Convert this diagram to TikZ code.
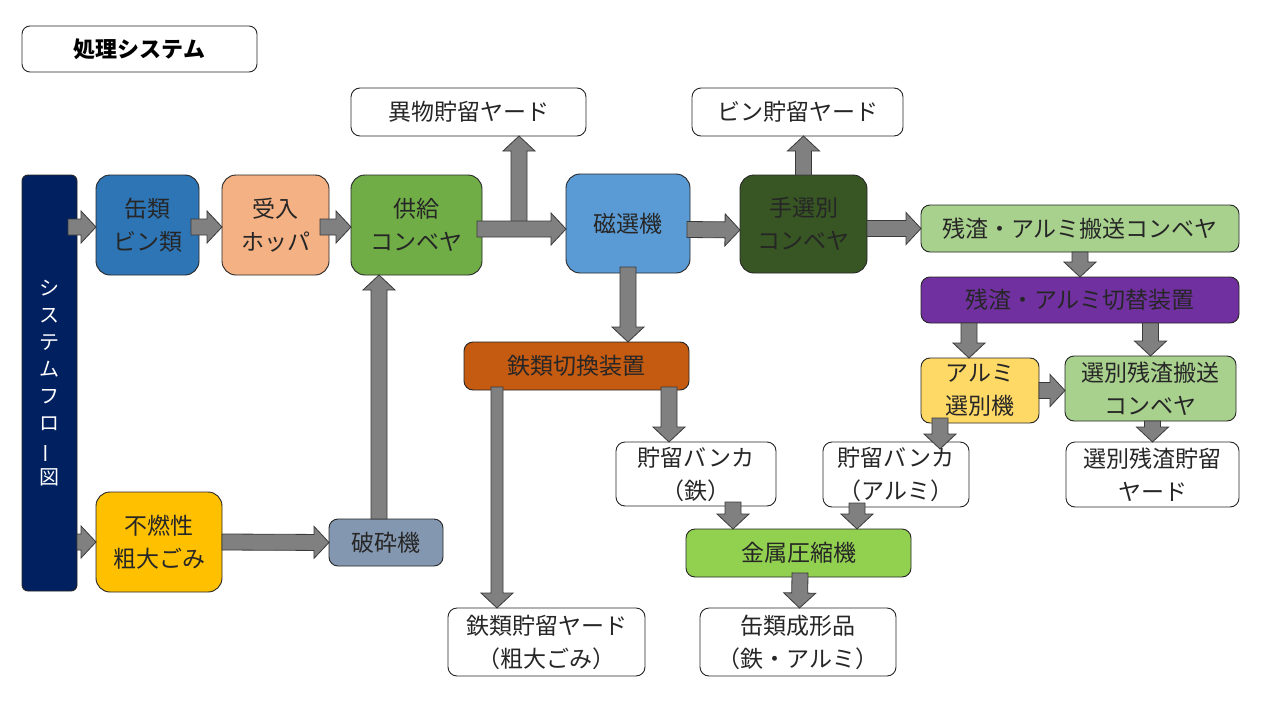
\documentclass[tikz,border=0pt]{standalone}
\usepackage{fontspec}
\setmainfont{Noto Sans CJK JP}
\usetikzlibrary{calc}
\definecolor{txt}{HTML}{262626}
\definecolor{navy}{HTML}{002060}
\definecolor{cblue}{HTML}{2E75B6}
\definecolor{cpeach}{HTML}{F4B183}
\definecolor{cgreen}{HTML}{70AD47}
\definecolor{clblue}{HTML}{5B9BD5}
\definecolor{cdgreen}{HTML}{375623}
\definecolor{clgreen}{HTML}{A9D18E}
\definecolor{cpurple}{HTML}{7030A0}
\definecolor{cyellow}{HTML}{FFD966}
\definecolor{corange}{HTML}{C55A11}
\definecolor{cgold}{HTML}{FFC000}
\definecolor{cmgreen}{HTML}{92D050}
\definecolor{cslate}{HTML}{8497B0}
\definecolor{agray}{HTML}{808080}
\definecolor{aline}{HTML}{3A3A3A}
\newcommand{\blockarr}[3][8]{%
  \coordinate (BAs) at (#2);
  \coordinate (BAe) at (#3);
  \coordinate (BAh) at ($(BAe)!15pt!(BAs)$);
  \draw[barr] ($(BAs)!#1pt!90:(BAe)$) -- ($(BAh)!#1pt!90:(BAe)$) -- ($(BAh)!16pt!90:(BAe)$) -- (BAe)
    -- ($(BAh)!16pt!-90:(BAe)$) -- ($(BAh)!#1pt!-90:(BAe)$) -- ($(BAs)!#1pt!-90:(BAe)$) -- cycle;
}
\tikzset{
  nd/.style={draw=black!85, line width=0.9pt, align=center, inner sep=0pt, outer sep=0pt,
    text=txt, font=\fontsize{23}{33}\selectfont, rounded corners=9pt},
  big/.style={nd, rounded corners=14pt},
  wh/.style={nd, fill=white},
  barr/.style={fill=agray, draw=aline, line width=0.8pt, line join=miter}
}
\begin{document}
\begin{tikzpicture}[x=1pt, y=-1pt]
\useasboundingbox[fill=white] (0,0) rectangle (1280,720);

% title
\node[nd, rounded corners=8pt, minimum width=235pt, minimum height=46pt, font=\fontsize{22}{26}\selectfont\bfseries, text=black] (title) at (139.5,49) {処理システム};

% system flow bar
\node[nd, fill=navy, rounded corners=6pt, minimum width=55pt, minimum height=416pt, text=white, font=\fontsize{20}{27}\selectfont] (bar) at (49.5,383)
  {シ\\ス\\テ\\ム\\フ\\ロ\\\rotatebox[origin=c]{90}{ー}\\図};

% top row
\node[big, fill=cblue, minimum width=103pt, minimum height=100pt] (kan) at (147.5,225) {缶類\\ビン類};
\node[big, fill=cpeach, minimum width=107pt, minimum height=100pt] (uke) at (275.5,225) {受入\\ホッパ};
\node[big, fill=cgreen, minimum width=131pt, minimum height=100pt] (kyo) at (416.5,225) {供給\\コンベヤ};
\node[big, fill=clblue, minimum width=124pt, minimum height=99pt] (jisen) at (628,223.5) {磁選機};
\node[big, fill=cdgreen, minimum width=127pt, minimum height=98pt] (tesen) at (803.5,224) {手選別\\コンベヤ};

% yards top
\node[wh, minimum width=235pt, minimum height=48pt] (iyard) at (468.5,112) {異物貯留ヤード};
\node[wh, minimum width=211pt, minimum height=48pt] (binyard) at (797.5,112) {ビン貯留ヤード};

% right column
\node[nd, fill=clgreen, minimum width=318pt, minimum height=47pt] (zanhan) at (1080,228.5) {残渣・アルミ搬送コンベヤ};
\node[nd, fill=cpurple, minimum width=318pt, minimum height=46pt] (zankiri) at (1080,300) {残渣・アルミ切替装置};
\node[nd, fill=cyellow, minimum width=118pt, minimum height=65pt] (alsen) at (980,390.5) {アルミ\\選別機};
\node[nd, fill=clgreen, minimum width=171pt, minimum height=65pt] (senhan) at (1150.5,388.5) {選別残渣搬送\\コンベヤ};
\node[wh, minimum width=173pt, minimum height=65pt] (senyard) at (1152.5,474.5) {選別残渣貯留\\ヤード};
\node[wh, minimum width=146pt, minimum height=65pt] (albank) at (896,474.5) {貯留バンカ\\（アルミ）};

% middle
\node[nd, fill=corange, minimum width=225pt, minimum height=48pt] (fekiri) at (576.5,366) {鉄類切換装置};
\node[wh, minimum width=160pt, minimum height=64pt] (febank) at (696,474) {貯留バンカ\\（鉄）};
\node[nd, fill=cmgreen, minimum width=225pt, minimum height=48pt] (asshuku) at (798.5,553) {金属圧縮機};
\node[wh, minimum width=196pt, minimum height=68pt] (seikei) at (798,642) {缶類成形品\\（鉄・アルミ）};
\node[wh, minimum width=197pt, minimum height=68pt] (feyard) at (546.5,642) {鉄類貯留ヤード\\（粗大ごみ）};

% bottom left
\node[big, fill=cgold, minimum width=126pt, minimum height=100pt] (funen) at (159,542) {不燃性\\粗大ごみ};
\node[nd, fill=cslate, minimum width=114pt, minimum height=47pt] (hasai) at (386,542.5) {破砕機};

% arrows
\blockarr{$(bar.east |- kan.west)+(-9,2)$}{$(kan.west)+(0,2)$}
\blockarr{$(kan.east)+(-8,2)$}{$(uke.west)+(0,2)$}
\blockarr{$(uke.east)+(-9,2)$}{$(kyo.west)+(0,2)$}
\coordinate (j1) at ($(kyo.east)+(37,4)$);
\blockarr{j1}{iyard.south -| j1}
\blockarr{$(kyo.east)+(-5,4)$}{jisen.west |- j1}
\blockarr{$(jisen.east)+(-3,6)$}{$(tesen.west)+(0,6)$}
\blockarr{tesen.north}{binyard.south -| tesen.north}
\blockarr{tesen.east |- zanhan.west}{zanhan.west}
\blockarr{zanhan.south}{zankiri.north}
\blockarr{$(zankiri.south -| alsen.north)+(-11,0)$}{$(alsen.north)+(-11,0)$}
\blockarr{zankiri.south -| senhan.north}{senhan.north}
\blockarr{alsen.east}{senhan.west |- alsen.east}
\blockarr{$(senhan.south)+(2,0)$}{$(senyard.north)+(0,0)$}
\blockarr{$(alsen.south)+(-40,-5)$}{$(alsen.south)+(-40,26)$}
\blockarr{$(jisen.south)+(0,-6)$}{jisen.south |- fekiri.north}
\blockarr{$(fekiri.south)+(92.5,-3)$}{$(febank.north)+(-27,0)$}
\blockarr[6]{$(fekiri.south)+(-79.5,-3)$}{$(feyard.north)+(-49.5,0)$}
\blockarr{$(febank.south)+(37,-4)$}{$(asshuku.north)+(-65.5,0)$}
\blockarr{$(albank.south)+(-39,-4)$}{$(asshuku.north)+(58.5,0)$}
\blockarr{$(asshuku.south)+(1.5,-4)$}{$(seikei.north)+(1.5,0)$}
\blockarr{bar.east |- funen.west}{funen.west}
\blockarr{funen.east}{hasai.west}
\blockarr{$(hasai.north)+(-7,0)$}{$(kyo.south)+(-37.5,0)$}
\end{tikzpicture}
\end{document}
